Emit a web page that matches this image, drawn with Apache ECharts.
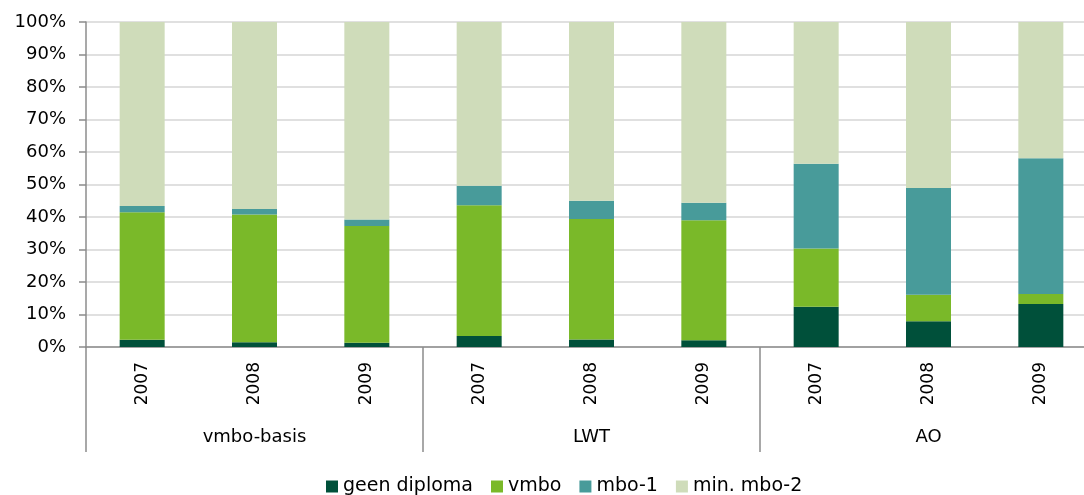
<!DOCTYPE html>
<html>
<head>
<meta charset="utf-8">
<script src="https://cdn.jsdelivr.net/npm/echarts@6/dist/echarts.min.js"></script>
<style>
  html, body { margin: 0; padding: 0; background: #fff; overflow: hidden; }
  /* wider than the window so the plot runs past the right edge, like the reference */
  #chart { width: 1097px; height: 495px; }
</style>
</head>
<body>
<div id="chart"></div>
<script>
const years = ['2007', '2008', '2009', '2007', '2008', '2009', '2007', '2008', '2009']
const groups = ['vmbo-basis', 'LWT', 'AO']
const seriesNames = ['geen diploma', 'vmbo', 'mbo-1', 'min. mbo-2']
const geenDiploma = [2.2, 1.5, 1.3, 3.4, 2.3, 2.1, 12.4, 7.9, 13.2]
const vmbo = [39.3, 39.3, 35.9, 40.2, 37.1, 36.9, 17.9, 8.2, 3.1]
const mbo1 = [1.9, 1.7, 2.0, 6.0, 5.6, 5.4, 26.1, 32.8, 41.8]
const minMbo2 = [56.6, 57.5, 60.8, 50.4, 55.0, 55.6, 43.6, 51.1, 41.9]
const colors = ['#00503a', '#7ab929', '#489b9a', '#cfdcba']

const font = 'DejaVu Sans'
const myChart = echarts.init(document.getElementById('chart'))
const values = [geenDiploma, vmbo, mbo1, minMbo2]

myChart.setOption({
  animation: false,
  color: colors,
  textStyle: { fontFamily: font },
  grid: { left: 86, right: 0, top: 22, bottom: 148 },
  legend: {
    top: 472,
    left: 321,
    itemWidth: 12,
    itemHeight: 12,
    itemGap: 18,
    icon: 'rect',
    textStyle: { fontFamily: font, fontSize: 19, color: '#000' },
    data: seriesNames
  },
  xAxis: [
    {
      type: 'category',
      data: years,
      axisLine: { lineStyle: { color: '#8c8c8c', width: 1.5 } },
      axisTick: { show: false },
      axisLabel: { rotate: 90, margin: 15, fontSize: 17, color: '#000', fontFamily: font }
    },
    {
      type: 'category',
      data: groups,
      position: 'bottom',
      axisLine: { show: false },
      axisTick: { show: true, length: 105, lineStyle: { color: '#8c8c8c', width: 1.5 } },
      axisLabel: { margin: 81, fontSize: 18, color: '#000', fontFamily: font }
    }
  ],
  yAxis: {
    type: 'value',
    min: 0,
    max: 100,
    interval: 10,
    axisLine: { show: true, lineStyle: { color: '#8c8c8c', width: 1.5 } },
    axisTick: { show: true, length: 7, lineStyle: { color: '#8c8c8c', width: 1.5 } },
    axisLabel: { formatter: '{value}%', margin: 20, fontSize: 18, color: '#000', fontFamily: font },
    splitLine: { lineStyle: { color: '#d6d6d6', width: 1.5 } }
  },
  series: seriesNames.map((name, i) => ({
    name: name,
    type: 'bar',
    stack: 'total',
    xAxisIndex: 0,
    barWidth: 45,
    data: values[i],
    itemStyle: { color: colors[i] }
  }))
})
</script>
</body>
</html>
